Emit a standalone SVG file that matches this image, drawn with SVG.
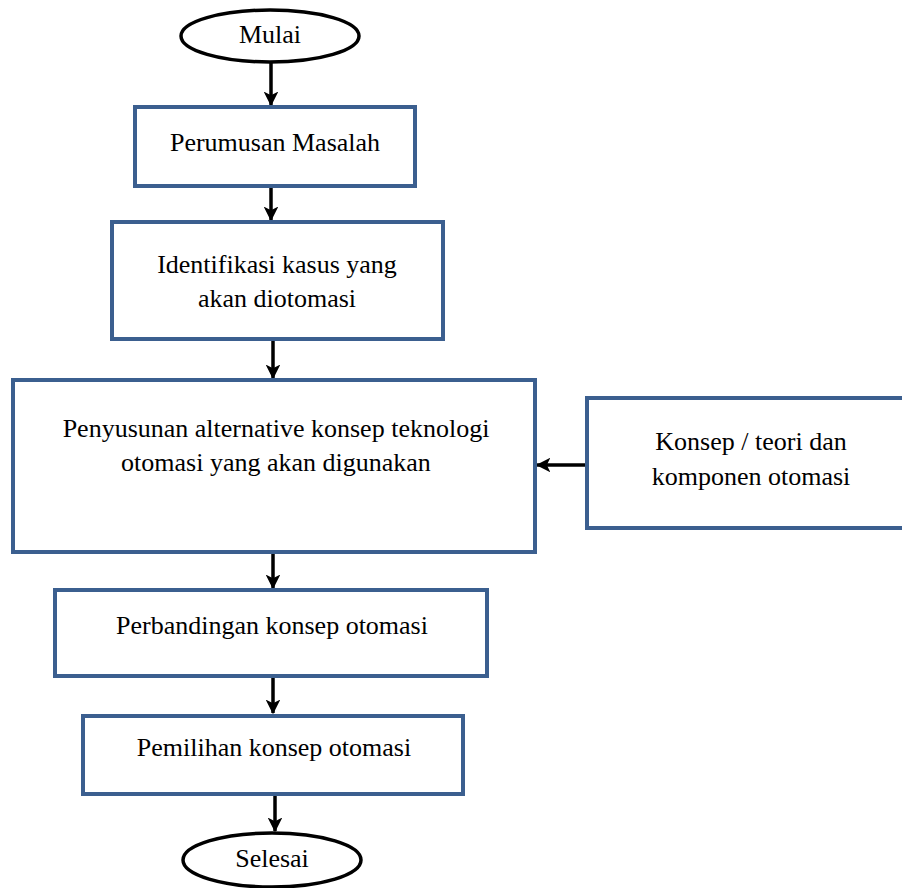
<svg xmlns="http://www.w3.org/2000/svg" width="902" height="888" viewBox="0 0 902 888">
  <style>
    .box { fill: #ffffff; stroke: #3b5f8f; stroke-width: 4; }
    .term { fill: #ffffff; stroke: #000000; stroke-width: 3.5; }
    .lbl { font-family: "Liberation Serif", "Times New Roman", serif; font-size: 26px; fill: #000000; text-anchor: middle; }
    .conn { stroke: #000000; stroke-width: 3.5; fill: none; }
  </style>
  <defs>
    <marker id="arrow" viewBox="0 0 12 12" refX="11" refY="6" markerWidth="4.2" markerHeight="4.2" orient="auto" markerUnits="strokeWidth">
      <path d="M0,0 L12,6 L0,12 L3,6 Z" fill="#000000"/>
    </marker>
  </defs>
  <rect width="902" height="888" fill="#ffffff"/>

  <g id="connectors">
    <line class="conn" x1="271" y1="62" x2="271" y2="105" marker-end="url(#arrow)"/>
    <line class="conn" x1="271" y1="186" x2="271" y2="220" marker-end="url(#arrow)"/>
    <line class="conn" x1="273" y1="339" x2="273" y2="378" marker-end="url(#arrow)"/>
    <line class="conn" x1="273" y1="552" x2="273" y2="588" marker-end="url(#arrow)"/>
    <line class="conn" x1="273" y1="677" x2="273" y2="713" marker-end="url(#arrow)"/>
    <line class="conn" x1="275" y1="794" x2="275" y2="831" marker-end="url(#arrow)"/>
    <line class="conn" x1="587" y1="465" x2="537" y2="465" marker-end="url(#arrow)"/>
  </g>

  <g id="mulai">
    <ellipse class="term" cx="270" cy="36" rx="89" ry="26"/>
    <text class="lbl" x="270" y="43">Mulai</text>
  </g>

  <g id="perumusan">
    <rect class="box" x="135" y="107" width="280" height="79"/>
    <text class="lbl" x="275" y="151">Perumusan Masalah</text>
  </g>

  <g id="identifikasi">
    <rect class="box" x="112" y="222" width="331" height="117"/>
    <text class="lbl" x="277" y="273">Identifikasi kasus yang</text>
    <text class="lbl" x="277" y="307">akan diotomasi</text>
  </g>

  <g id="penyusunan">
    <rect class="box" x="13" y="380" width="522" height="172"/>
    <text class="lbl" x="276" y="437">Penyusunan alternative konsep teknologi</text>
    <text class="lbl" x="276" y="471">otomasi yang akan digunakan</text>
  </g>

  <g id="konsep">
    <rect class="box" x="587" y="398" width="318" height="130"/>
    <text class="lbl" x="751" y="450">Konsep / teori dan</text>
    <text class="lbl" x="751" y="485">komponen otomasi</text>
  </g>

  <g id="perbandingan">
    <rect class="box" x="55" y="590" width="432" height="86"/>
    <text class="lbl" x="272" y="634">Perbandingan konsep otomasi</text>
  </g>

  <g id="pemilihan">
    <rect class="box" x="83" y="716" width="380" height="78"/>
    <text class="lbl" x="274" y="756">Pemilihan konsep otomasi</text>
  </g>

  <g id="selesai">
    <ellipse class="term" cx="272" cy="860" rx="89" ry="27"/>
    <text class="lbl" x="272" y="867">Selesai</text>
  </g>
</svg>
